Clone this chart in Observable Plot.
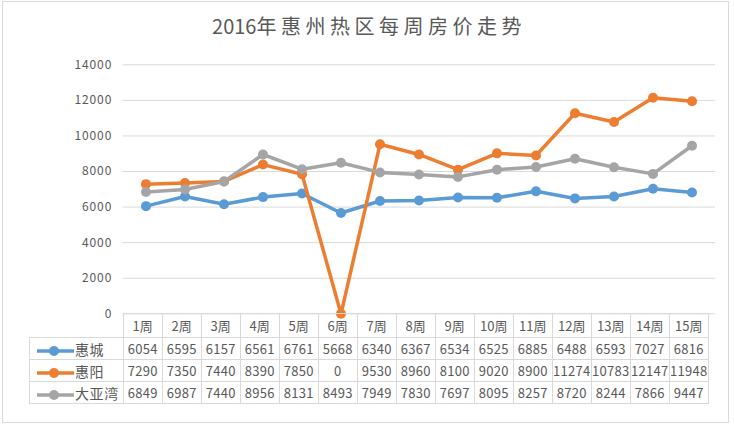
<!DOCTYPE html>
<html>
<head>
<meta charset="utf-8">
<script src="https://cdn.jsdelivr.net/npm/d3@7"></script>
<script src="https://cdn.jsdelivr.net/npm/@observablehq/plot@0.6"></script>
<style>
  html, body { margin: 0; padding: 0; background: #fff; }
  #wrap { position: relative; width: 734px; height: 425px; overflow: hidden; background: #fff;
          font-family: "Noto Sans CJK SC", "Noto Sans", sans-serif; color: #595959; }
  #frame { position: absolute; left: 2px; top: 1px; width: 727px; height: 422px; box-sizing: border-box; border: 1px solid #d9d9d9; }
  #title { position: absolute; top: 14px; left: 2px; width: 734px; text-align: center; font-size: 20px; line-height: 24px; color: #595959; }
  #title .cjk { letter-spacing: 4.5px; }
  #chart { position: absolute; left: 0; top: 0; }
  #chart svg g[aria-label="y-axis tick label"] text { letter-spacing: 0.9px; }
  #tbl { position: absolute; left: 29px; top: 313px; border-collapse: collapse; table-layout: fixed; color: #595959; }
  #tbl td { border: 1px solid #d9d9d9; padding: 0; text-align: center; white-space: nowrap; overflow: visible; font-size: 13px; letter-spacing: 0.3px; }
  #tbl tr.head td { height: 23px; font-size: 13px; letter-spacing: 0; }
  #tbl tr.row td { height: 21px; }
  #tbl td.blank { border-top: none; border-left: none; }
  #tbl td.leg { text-align: left; font-size: 14px; letter-spacing: 0.6px; padding-left: 3px; }
  #tbl td.leg svg { vertical-align: middle; margin-right: 1px; }
</style>
</head>
<body>
<div id="wrap">
  <div id="frame"></div>
  <div id="title"><span>2016</span><span class="cjk">年惠州热区每周房价走势</span></div>
  <div id="chart"></div>
  <table id="tbl"></table>
</div>
<script>
const weeks = ["1周","2周","3周","4周","5周","6周","7周","8周","9周","10周","11周","12周","13周","14周","15周"];
const seriesNames = ["惠城", "惠阳", "大亚湾"];
const huicheng = [6054, 6595, 6157, 6561, 6761, 5668, 6340, 6367, 6534, 6525, 6885, 6488, 6593, 7027, 6816];
const huiyang  = [7290, 7350, 7440, 8390, 7850, 0, 9530, 8960, 8100, 9020, 8900, 11274, 10783, 12147, 11948];
const dayawan  = [6849, 6987, 7440, 8956, 8131, 8493, 7949, 7830, 7697, 8095, 8257, 8720, 8244, 7866, 9447];
const yTicks = [0, 2000, 4000, 6000, 8000, 10000, 12000, 14000];
const colors = ["#5B9BD5", "#ED7D31", "#A5A5A5"];

const seriesValues = [huicheng, huiyang, dayawan];
const rows = [];
seriesNames.forEach((s, si) => weeks.forEach((w, i) => rows.push({series: s, week: w, value: seriesValues[si][i]})));

const W = 734, H = 320;
const marginLeft = 122.7, marginRight = 19, marginTop = 64.3, frameBottom = 313.3;

const marks = [
  Plot.ruleY(yTicks, {stroke: "#d9d9d9", strokeWidth: 1}),
  Plot.axisY({ticks: yTicks, tickSize: 0, tickPadding: 11, tickFormat: d => String(d), label: null, fontSize: 12})
];
seriesNames.forEach(s => {
  const data = rows.filter(d => d.series === s);
  marks.push(Plot.line(data, {x: "week", y: "value", stroke: "series", strokeWidth: 3.5, strokeLinejoin: "round", strokeLinecap: "round"}));
  marks.push(Plot.dot(data, {x: "week", y: "value", fill: "series", r: 5, stroke: "none"}));
});

const chart = Plot.plot({
  width: W, height: H,
  marginLeft, marginRight, marginTop, marginBottom: H - frameBottom,
  x: {type: "band", domain: weeks, padding: 0, axis: null},
  y: {domain: [0, 14000], axis: null},
  color: {domain: seriesNames, range: colors},
  style: {background: "transparent", color: "#595959", fontFamily: "'Noto Sans CJK SC', 'Noto Sans', sans-serif", fontSize: "12px", overflow: "visible"},
  marks
});
document.getElementById("chart").appendChild(chart);

// Data table below the chart, aligned with the chart's x scale
const xs = chart.scale("x");
const bw = xs.bandwidth;
const tbl = document.getElementById("tbl");
let html = `<colgroup><col style="width:${marginLeft - 29}px">` + weeks.map(() => `<col style="width:${bw}px">`).join("") + `</colgroup>`;
html += `<tr class="head"><td class="blank"></td>` + weeks.map(w => `<td>${w}</td>`).join("") + `</tr>`;
seriesNames.forEach((s, si) => {
  const sw = `<svg width="41" height="12"><line x1="4" x2="41" y1="6" y2="6" stroke="${colors[si]}" stroke-width="3.5"/><circle cx="21" cy="6" r="5" fill="${colors[si]}"/></svg>`;
  html += `<tr class="row"><td class="leg">${sw}${s}</td>` + seriesValues[si].map(v => `<td>${v}</td>`).join("") + `</tr>`;
});
tbl.innerHTML = html;
tbl.style.width = (marginLeft - 29 + bw * weeks.length) + "px";
</script>
</body>
</html>
